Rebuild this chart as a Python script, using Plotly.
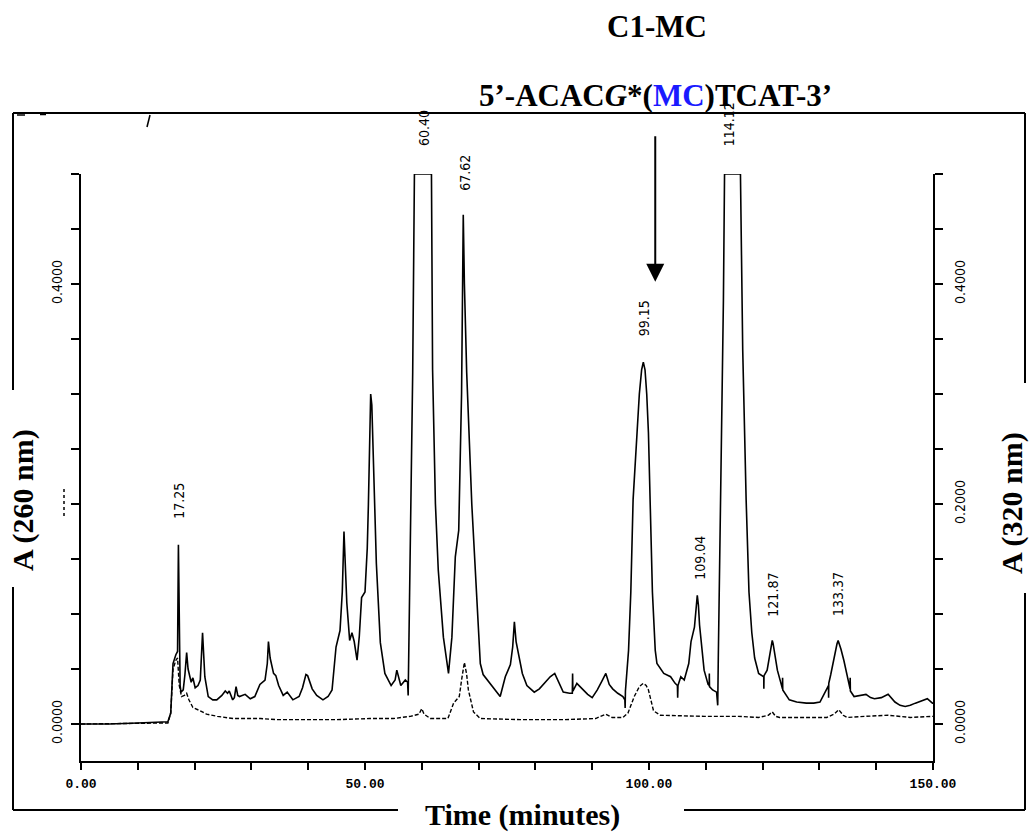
import plotly.graph_objects as go

# ---------------- data ----------------
# 260 nm trace (solid) : retention time (min), absorbance
t260 = [0, 5, 10, 15.3, 15.8, 16.2, 16.7, 17.0, 17.15, 17.3, 17.45, 17.6, 18.0, 18.3, 18.6, 18.85,
        19.1, 19.4, 19.7, 19.95, 20.1, 20.6, 21.0, 21.4, 21.6, 21.8, 22.4, 23.2, 23.9, 24.8, 25.4,
        25.8, 26.1, 26.7, 27.0, 27.3, 27.6, 27.9, 28.9, 29.8, 30.6, 31.5, 32.4, 32.8, 33.0, 33.3,
        33.9, 34.3, 34.8, 35.6, 36.3, 37.3, 38.4, 39.0, 39.6, 39.9, 40.7, 41.5, 42.6, 43.5, 44.2,
        44.9, 45.6, 46.0, 46.3, 46.5, 46.8, 47.3, 47.7, 48.1, 48.6, 49.0, 49.4, 50.0, 50.4, 50.6,
        51.0, 51.2, 51.5, 52.0, 52.7, 53.5, 54.6, 55.3, 55.6, 55.9, 56.3, 57.1, 57.5, 57.6, 57.65,
        58.4, 58.7, 61.7, 61.9, 62.4, 62.9, 63.8, 64.7, 65.3, 65.9, 66.5, 67.0, 67.3, 67.5, 67.9,
        68.8, 69.7, 70.3, 70.8, 72.4, 73.8, 74.7, 75.6, 76.0, 76.3, 76.6, 77.2, 77.7, 78.5, 79.8,
        80.7, 81.6, 82.6, 83.4, 84.2, 84.9, 86.0, 86.5, 86.55, 86.6, 87.3, 88.2, 89.2, 90.0, 90.9,
        91.8, 92.4, 93.0, 93.6, 94.5, 95.4, 95.75, 95.8, 95.85, 96.4, 96.8, 97.2, 97.9, 98.3, 98.7,
        99.0, 99.3, 99.6, 99.9, 100.2, 100.6, 101.1, 101.4, 102.6, 103.8, 104.6, 105.0, 105.05,
        105.1, 105.6, 106.2, 107.0, 107.4, 108.0, 108.3, 108.5, 108.7, 108.9, 109.7, 110.4, 110.6,
        110.62, 110.65, 111.2, 111.9, 112.1, 112.2, 113.1, 113.3, 116.1, 116.3, 116.5, 117.1,
        117.6, 118.1, 118.6, 119.3, 120.2, 120.22, 120.25, 120.8, 121.3, 121.55, 121.7, 121.85,
        122.2, 122.6, 123.5, 123.52, 123.55, 124.7, 126.0, 127.7, 129.0, 130.1, 131.3, 131.6,
        131.62, 131.65, 132.0, 132.8, 133.1, 133.3, 133.5, 133.8, 134.3, 135.2, 135.4, 135.42,
        135.45, 136.1, 137.2, 138.2, 139.0, 139.7, 140.9, 142.1, 143.3, 144.2, 145.1, 146.0,
        146.9, 148.0, 149.0, 149.9, 150.0]
a260 = [0.0, 0.0, 0.001, 0.002, 0.01, 0.055, 0.063, 0.066, 0.163, 0.10, 0.035, 0.029, 0.031, 0.045,
        0.065, 0.05, 0.043, 0.038, 0.042, 0.034, 0.033, 0.035, 0.04, 0.083, 0.06, 0.043, 0.025,
        0.022, 0.022, 0.026, 0.030, 0.028, 0.030, 0.022, 0.024, 0.034, 0.026, 0.025, 0.027, 0.023,
        0.025, 0.036, 0.040, 0.055, 0.075, 0.06, 0.046, 0.044, 0.035, 0.026, 0.029, 0.022, 0.025,
        0.033, 0.045, 0.044, 0.032, 0.026, 0.022, 0.025, 0.031, 0.07, 0.085, 0.12, 0.175, 0.15,
        0.11, 0.076, 0.083, 0.075, 0.058, 0.08, 0.115, 0.12, 0.16, 0.2, 0.30, 0.29, 0.231, 0.146,
        0.074, 0.046, 0.035, 0.04, 0.049, 0.042, 0.035, 0.04, 0.038, 0.026, 0.045, 0.32, 0.5, 0.5,
        0.322, 0.2, 0.14, 0.079, 0.046, 0.079, 0.152, 0.176, 0.30, 0.463, 0.40, 0.32, 0.2, 0.11,
        0.055, 0.045, 0.034, 0.025, 0.043, 0.054, 0.07, 0.093, 0.075, 0.057, 0.046, 0.035, 0.029,
        0.032, 0.037, 0.043, 0.046, 0.036, 0.029, 0.028, 0.028, 0.046, 0.03, 0.037, 0.032, 0.027,
        0.024, 0.031, 0.040, 0.046, 0.036, 0.032, 0.028, 0.025, 0.022, 0.0145, 0.03, 0.067, 0.12,
        0.204, 0.265, 0.300, 0.322, 0.329, 0.322, 0.300, 0.265, 0.204, 0.12, 0.067, 0.055, 0.046,
        0.043, 0.037, 0.035, 0.024, 0.035, 0.043, 0.040, 0.055, 0.075, 0.088, 0.108, 0.117, 0.108,
        0.09, 0.049, 0.036, 0.035, 0.046, 0.034, 0.031, 0.029, 0.017, 0.06, 0.385, 0.5, 0.5,
        0.385, 0.34, 0.204, 0.12, 0.083, 0.06, 0.046, 0.043, 0.032, 0.044, 0.049, 0.065, 0.073,
        0.076, 0.073, 0.062, 0.049, 0.032, 0.042, 0.031, 0.022, 0.020, 0.019, 0.019, 0.020, 0.032,
        0.035, 0.024, 0.037, 0.045, 0.067, 0.073, 0.076, 0.073, 0.068, 0.058, 0.037, 0.032, 0.042,
        0.030, 0.025, 0.026, 0.027, 0.024, 0.023, 0.024, 0.027, 0.020, 0.017, 0.016, 0.017, 0.019,
        0.021, 0.023, 0.019, 0.019]

# 320 nm trace (dashed)
t320 = [0, 15.3, 15.8, 16.2, 16.7, 17.0, 17.3, 17.7, 18.2, 18.6, 19.0, 19.7, 21.0, 22.1, 24.0,
        26.8, 31.6, 34.5, 38.6, 45.0, 50.8, 55.0, 58.0, 59.5, 60.0, 60.4, 61.5, 64.6, 65.6, 66.6,
        67.0, 67.5, 67.9, 68.2, 69.1, 70.3, 77.3, 85.0, 90.6, 92.4, 93.5, 95.4, 96.3, 97.4, 98.3,
        99.0, 99.5, 99.9, 100.8, 102.0, 109.7, 115.7, 119.3, 121.0, 121.7, 122.3, 123.0, 131.3,
        132.6, 133.4, 134.2, 134.9, 138.0, 142.1, 146.0, 150.0]
a320 = [0.0, 0.001, 0.01, 0.05, 0.058, 0.06, 0.035, 0.025, 0.026, 0.028, 0.022, 0.015, 0.012,
        0.009, 0.007, 0.005, 0.005, 0.004, 0.004, 0.004, 0.005, 0.005, 0.007, 0.009, 0.014, 0.009,
        0.005, 0.005, 0.019, 0.025, 0.04, 0.056, 0.045, 0.031, 0.011, 0.005, 0.004, 0.004, 0.005,
        0.009, 0.006, 0.006, 0.01, 0.025, 0.034, 0.037, 0.035, 0.031, 0.012, 0.008, 0.007, 0.007,
        0.006, 0.008, 0.011, 0.007, 0.006, 0.006, 0.009, 0.013, 0.008, 0.006, 0.007, 0.008, 0.006,
        0.007]

# peak annotations (retention-time labels) and apex heights
peak_labels = ["17.25", "60.40", "67.62", "99.15", "109.04", "114.12", "121.87", "133.37"]
peak_times = [17.25, 60.40, 67.62, 99.15, 109.04, 114.12, 121.87, 133.37]
peak_heights = [0.163, 0.5, 0.463, 0.329, 0.117, 0.5, 0.076, 0.076]

x_tickvals = list(range(0, 151, 10))
x_ticktext = ["0.00" if v == 0 else ("50.00" if v == 50 else ("100.00" if v == 100 else ("150.00" if v == 150 else ""))) for v in x_tickvals]
y_tickvals = [round(0.05 * i, 2) for i in range(11)]
y_left_text = {0.0: "0.0000", 0.4: "0.4000"}
y_right_text = {0.0: "0.0000", 0.2: "0.2000", 0.4: "0.4000"}

title_main = "C1-MC"
title_seq = "5’-ACAC<i>G</i>*(<span style='color:#1a1aff'>MC</span>)TCAT-3’"
x_title = "Time (minutes)"
y_left_title = "A (260 nm)"
y_right_title = "A (320 nm)"

# ---------------- layout constants ----------------
W, H = 1031, 833
L, R, T, B = 81, 98, 174, 72
PW, PH = W - L - R, H - T - B
YR = [-0.0336, 0.5]


def px(xpix):
    return (xpix - L) / PW


def py(ypix):
    return (H - B - ypix) / PH


fig = go.Figure()
fig.add_trace(go.Scatter(x=t260, y=a260, mode="lines", line=dict(color="black", width=1.6),
                         showlegend=False, hoverinfo="skip"))
fig.add_trace(go.Scatter(x=t320, y=a320, mode="lines", yaxis="y2",
                         line=dict(color="black", width=1.4, dash="4px,2px"),
                         showlegend=False, hoverinfo="skip"))

narrow = "Liberation Sans Narrow, DejaVu Sans Condensed, Arial Narrow, sans-serif"
serif = "Liberation Serif, Times New Roman, serif"
mono = "Liberation Mono, Courier New, monospace"

fig.update_layout(
    width=W, height=H, margin=dict(l=L, r=R, t=T, b=B, pad=0),
    paper_bgcolor="white", plot_bgcolor="white",
    xaxis=dict(range=[0, 150], showline=True, linecolor="black", linewidth=2, mirror=False,
               ticks="outside", ticklen=7, tickwidth=2, tickcolor="black",
               tickvals=x_tickvals, ticktext=x_ticktext, showgrid=False, zeroline=False,
               tickfont=dict(family=mono, size=13, color="black", weight="bold"),
               ticklabelstandoff=2),
    yaxis=dict(range=YR, showline=True, linecolor="black", linewidth=2,
               ticks="outside", ticklen=8, tickwidth=2, tickcolor="black",
               tickvals=y_tickvals, ticktext=[y_left_text.get(v, "") for v in y_tickvals],
               tickangle=-90, showgrid=False, zeroline=False,
               tickfont=dict(family=narrow, size=14, color="black"), ticklabelstandoff=3),
    yaxis2=dict(range=YR, overlaying="y", side="right", showline=True, linecolor="black",
                linewidth=2, ticks="outside", ticklen=8, tickwidth=2, tickcolor="black",
                tickvals=y_tickvals, ticktext=[y_right_text.get(v, "") for v in y_tickvals],
                tickangle=-90, showgrid=False, zeroline=False,
                tickfont=dict(family=narrow, size=14, color="black"), ticklabelstandoff=5),
)

ann = []
label_shift = [24, 26, 22, 24, 14, 26, 22, 22]
for lab, tx, hy, sh in zip(peak_labels, peak_times, peak_heights, label_shift):
    ann.append(dict(x=tx, y=hy, xref="x", yref="y", text=lab, showarrow=False, textangle=-90,
                    xanchor="center", yanchor="bottom", yshift=sh,
                    font=dict(family=narrow, size=14, color="black")))

big = dict(family=serif, size=31, color="black", weight="bold")
big30 = dict(family=serif, size=30, color="black", weight="bold")
ann.append(dict(x=px(657), y=py(26), xref="paper", yref="paper", text="<b>" + title_main + "</b>",
                showarrow=False, xanchor="center", yanchor="middle", font=big))
ann.append(dict(x=px(655), y=py(95), xref="paper", yref="paper", text="<b>" + title_seq + "</b>",
                showarrow=False, xanchor="center", yanchor="middle", font=big))
ann.append(dict(x=px(522), y=py(815), xref="paper", yref="paper", text="<b>" + x_title + "</b>",
                showarrow=False, xanchor="center", yanchor="middle", font=big30))
ann.append(dict(x=px(23), y=py(500), xref="paper", yref="paper", text="<b>" + y_left_title + "</b>",
                showarrow=False, textangle=-90, xanchor="center", yanchor="middle", font=big30))
ann.append(dict(x=px(1012), y=py(503), xref="paper", yref="paper", text="<b>" + y_right_title + "</b>",
                showarrow=False, textangle=-90, xanchor="center", yanchor="middle", font=big30))
# arrow pointing at the MC adduct peak
ann.append(dict(x=101.1, y=0.402, xref="x", yref="y", ax=0, ay=-147, axref="pixel", ayref="pixel",
                text="", showarrow=True, arrowhead=2, arrowsize=1.8, arrowwidth=2, arrowcolor="black"))
fig.update_layout(annotations=ann)

# outer frame (broken around the axis titles) and scan artifacts
frame = [((13, 113), (1025, 113)), ((13, 113), (13, 390)), ((13, 587), (13, 810)),
         ((13, 810), (398, 810)), ((684, 810), (1025, 810)),
         ((1025, 113), (1025, 383)), ((1025, 593), (1025, 810))]
shapes = []
for (x0, y0), (x1, y1) in frame:
    shapes.append(dict(type="line", xref="paper", yref="paper", x0=px(x0), y0=py(y0), x1=px(x1), y1=py(y1),
                       line=dict(color="black", width=2)))
shapes.append(dict(type="line", xref="paper", yref="paper", x0=px(147), y0=py(127), x1=px(150), y1=py(115),
                   line=dict(color="black", width=1.5)))
shapes.append(dict(type="line", xref="paper", yref="paper", x0=px(17), y0=py(115), x1=px(25), y1=py(115),
                   line=dict(color="black", width=1.5)))
shapes.append(dict(type="line", xref="paper", yref="paper", x0=px(40), y0=py(114.5), x1=px(46), y1=py(114.5),
                   line=dict(color="black", width=1.5)))
shapes.append(dict(type="line", xref="paper", yref="paper", x0=px(64), y0=py(489), x1=px(64), y1=py(518),
                   line=dict(color="black", width=1.5, dash="dot")))
fig.update_layout(shapes=shapes)

fig.write_html("out.html")
